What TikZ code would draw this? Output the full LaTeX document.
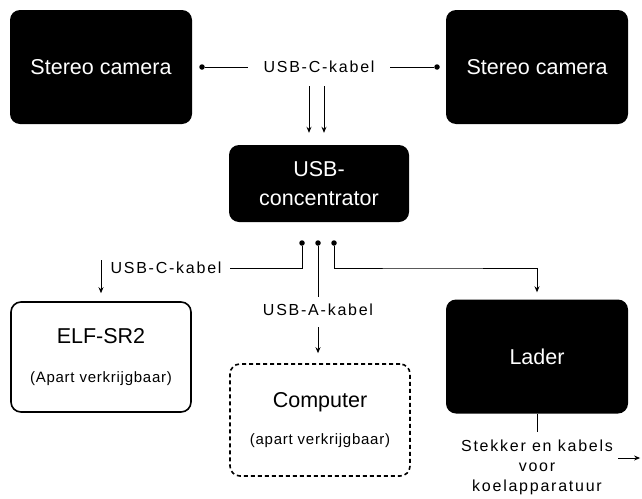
\documentclass[tikz,border=0pt]{standalone}
\usepackage{fontspec}
\setmainfont{Liberation Sans}
\newfontfamily\cablefont[LetterSpace=11]{Liberation Sans}
\newfontfamily\notefont[LetterSpace=5]{Liberation Sans}
\usetikzlibrary{arrows.meta}

\tikzset{
  darkbox/.style={fill=black, text=white, rounded corners=10pt, minimum width=182pt,
    minimum height=114pt, align=center, font=\fontsize{21.5}{29}\selectfont},
  lightbox/.style={draw=black, line width=1.6pt, rounded corners=10pt, minimum width=180pt,
    minimum height=110pt, align=center, font=\fontsize{21.5}{29}\selectfont},
  cable/.style={font=\cablefont\fontsize{16}{20}\selectfont, inner sep=1pt, align=center},
  wire/.style={line width=1pt},
  arr/.style={wire, -{Stealth[length=6pt,width=5pt]}},
  plug/.style={fill=black, circle, inner sep=0pt, minimum size=5.5pt}
}
\newcommand{\note}[1]{{\notefont\fontsize{15}{18}\selectfont #1}}

\begin{document}
\begin{tikzpicture}[x=1pt,y=-1pt]
\useasboundingbox (0,0) rectangle (642,498);
% Cameras and hub
\node[darkbox] (camL) at (101,67) {Stereo camera};
\node[darkbox] (camR) at (537,67) {Stereo camera};
\node[darkbox, minimum width=180pt, minimum height=77pt] (hub) at (319,183.5) {USB-\\concentrator};
% Bottom row
\node[lightbox] (elf) at (101,357) {ELF-SR2\\[10pt]\note{(Apart verkrijgbaar)}};
\node[lightbox, dashed, dash pattern=on 4pt off 3pt, minimum height=112pt] (comp) at (320,420) {Computer\\[8pt]\note{(apart verkrijgbaar)}};
\node[darkbox] (lader) at (537,356.5) {Lader};

% USB-C from the cameras
\node[cable] (ctop) at (319,67) {USB-C-kabel};
\node[plug] (dotL) at (202,67) {};
\node[plug] (dotR) at (437,67) {};
\draw[wire] (dotL) -- ([xshift=-14pt]ctop.west);
\draw[wire] (dotR) -- ([xshift=14pt]ctop.east);
\draw[arr] ([xshift=-10pt,yshift=-12pt]ctop.south) -- ([xshift=-10pt,yshift=12pt]hub.north);
\draw[arr] ([xshift=5pt,yshift=-12pt]ctop.south) -- ([xshift=5pt,yshift=12pt]hub.north);

% Hub outputs
\node[plug] (p1) at (302,243) {};
\node[plug] (p2) at (318,243) {};
\node[plug] (p3) at (334,243) {};
\node[cable] (cleft) at (166,268) {USB-C-kabel};
\node[cable] (cmid) at (318,310) {USB-A-kabel};
\draw[wire] (p1) |- ([xshift=7pt]cleft.east);
\draw[arr] ([yshift=8pt]cleft.west -| elf.north) -- ([yshift=8pt]elf.north);
\draw[wire] (p2) -- ([yshift=6pt]cmid.north);
\draw[arr] ([yshift=-10pt]cmid.south) -- ([yshift=10pt]comp.north -| cmid.south);
\draw[arr] (p3) |- (430,268) -| ([yshift=7pt]lader.north);

% Charger cables
\node[cable] (cplug) at (537,467) {Stekker en kabels\\voor\\koelapparatuur};
\draw[wire] (lader.south) -- ([yshift=6pt]cplug.north);
\draw[arr] ([xshift=4pt,yshift=9pt]cplug.east) -- ++(22,0);
\end{tikzpicture}
\end{document}
